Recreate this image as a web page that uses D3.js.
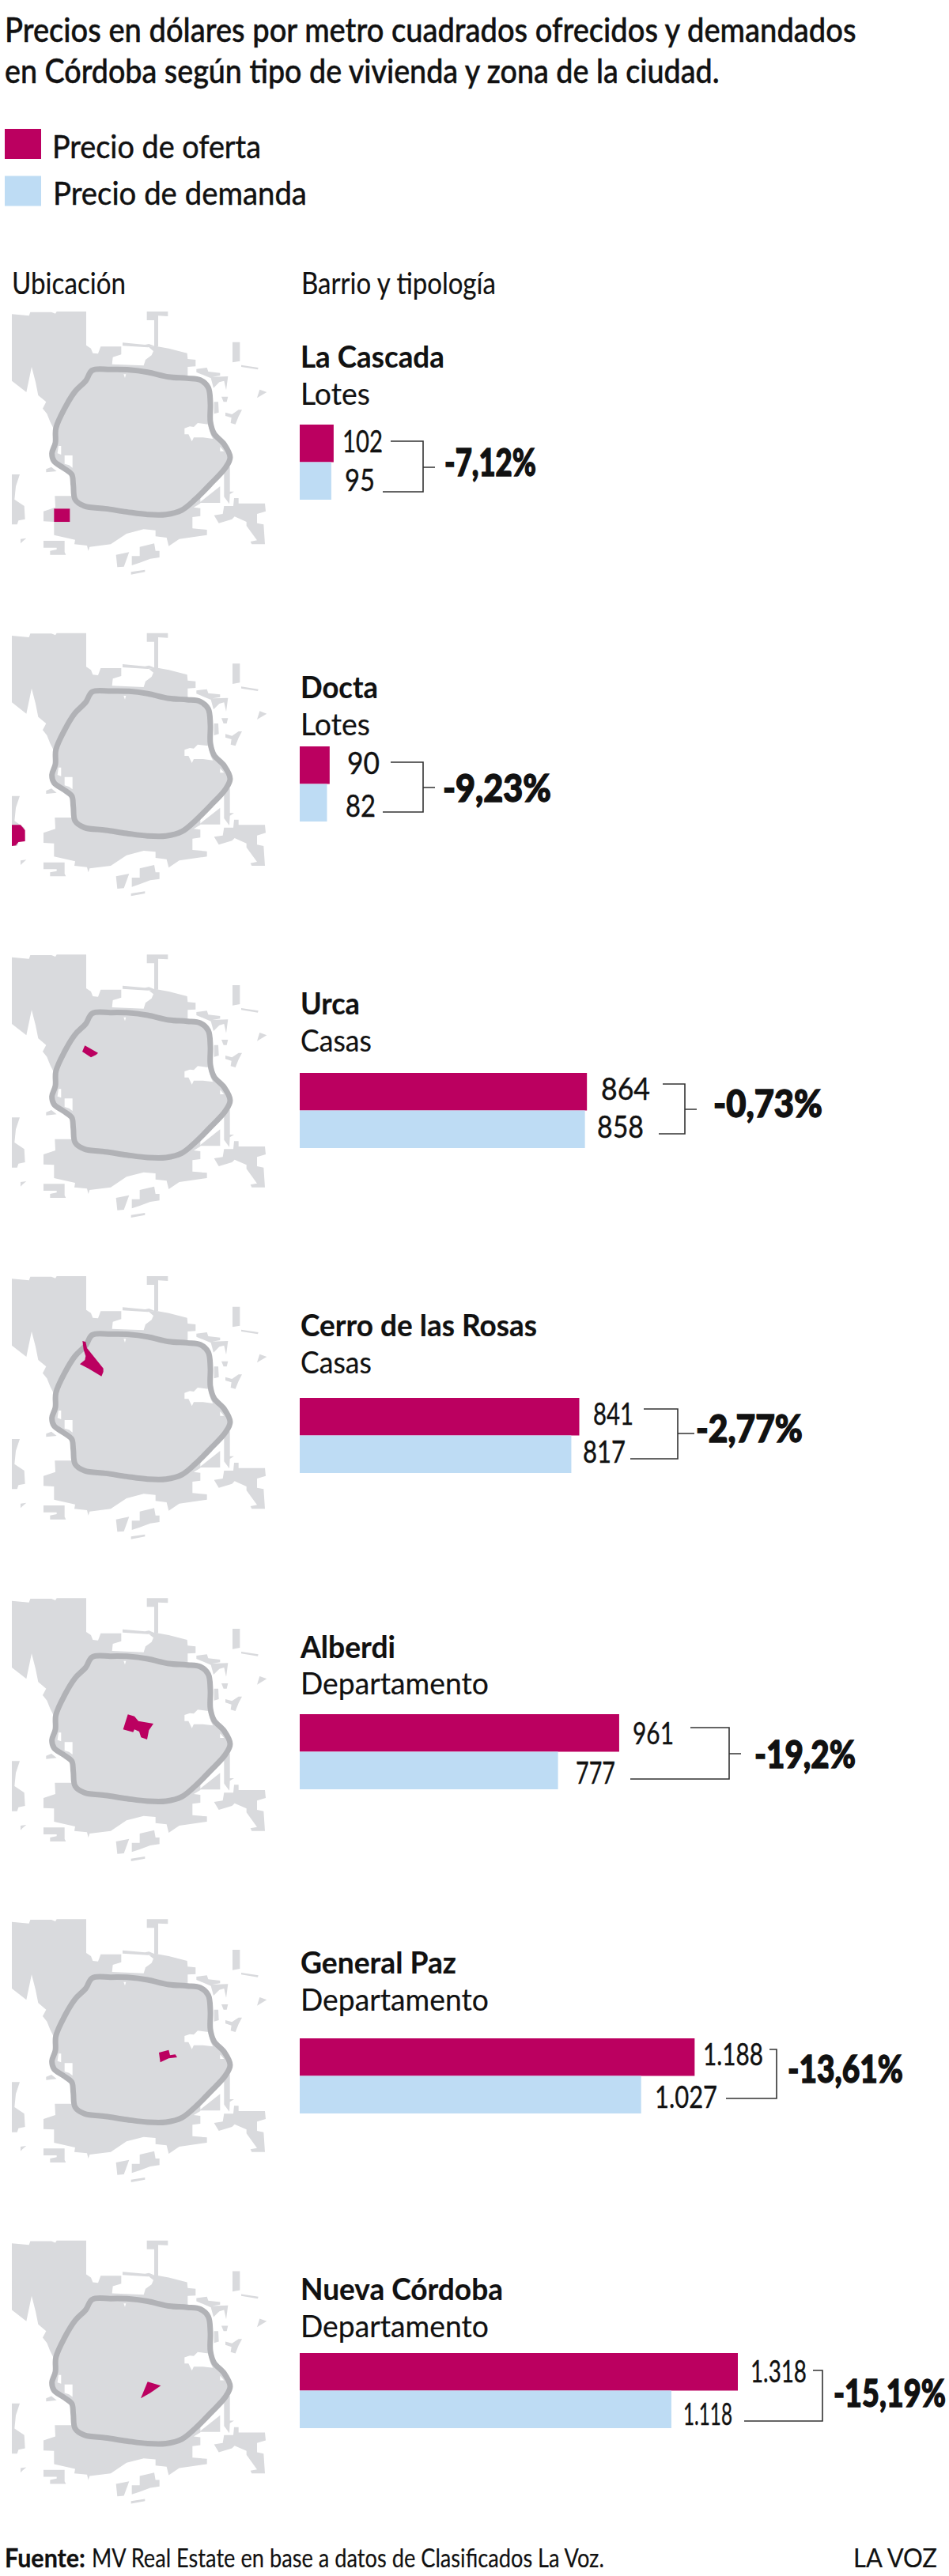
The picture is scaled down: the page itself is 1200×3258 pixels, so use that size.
<!DOCTYPE html>
<html lang="es">
<head>
<meta charset="utf-8">
<title>Precios en Córdoba</title>
<script src="https://cdn.jsdelivr.net/npm/d3@7/dist/d3.min.js"></script>
<style>
html,body{margin:0;padding:0;background:#fff}
svg{display:block}
text{font-family:Lato,"Open Sans",sans-serif;fill:#111;stroke:#111;paint-order:stroke}
</style>
</head>
<body>
<svg id="chart" width="1200" height="3258"></svg>
<script>
// Prices per square metre
const barrios    = ["La Cascada","Docta","Urca","Cerro de las Rosas","Alberdi","General Paz","Nueva Córdoba"];
const tipologias = ["Lotes","Lotes","Casas","Casas","Departamento","Departamento","Departamento"];
const oferta     = [102,90,864,841,961,1188,1318];
const demanda    = [95,82,858,817,777,1027,1118];
const variacion  = ["-7,12%","-9,23%","-0,73%","-2,77%","-19,2%","-13,61%","-15,19%"];
const titulo     = ["Precios en dólares por metro cuadrados ofrecidos y demandados","en Córdoba según tipo de vivienda y zona de la ciudad."];
const leyenda    = ["Precio de oferta","Precio de demanda"];

// Colours
const MAGENTA="#bb0060", CELESTE="#bedcf4", TIERRA="#d9dadd", ANILLO="#b1b2b6";

// Vertical layout of each row
const barTop   = [537,944,1357,1768,2168,2578,2976];
const mapBase  = [366.7,773.3,1180,1586.7,1994,2400,2806.5];
const nameBase = [465,883,1283,1690,2097,2496,2909];
const typeBase = [512,930,1330,1737,2143,2543,2956];

// Value labels and bracket for each row
const lblO = [{x:433,w:51,y:572},{x:439,w:41,y:979},{x:760,w:62,y:1391},{x:750,w:51,y:1802},{x:800,w:52,y:2206},{x:889,w:76,y:2612},{x:949,w:71,y:3013}];
const lblD = [{x:436,w:38,y:621},{x:437,w:38,y:1033},{x:755,w:59,y:1439},{x:737,w:54,y:1850},{x:728,w:50,y:2256},{x:828,w:79,y:2666},{x:864,w:62,y:3067}];
const brk  = [
 {x0:494,x1:484,xv:535,y0:558,y1:622,ty:591,tx:550},
 {x0:494,x1:484,xv:535,y0:964,y1:1027,ty:996,tx:550},
 {x0:838,x1:833,xv:866,y0:1371,y1:1434,ty:1403,tx:881},
 {x0:814,x1:797,xv:857,y0:1782,y1:1845,ty:1813,tx:878},
 {x0:873,x1:797,xv:922,y0:2185,y1:2250,ty:2218,tx:937},
 {x0:973,x1:918,xv:982,y0:2592,y1:2654,ty:2623,tx:982},
 {x0:1028,x1:941,xv:1040,y0:2998,y1:3062,ty:3030,tx:1040}];
const lblP = [{x:562,w:116,y:602},{x:560,w:137,y:1014},{x:902,w:138,y:1413},{x:880,w:135,y:1824},{x:954,w:128,y:2236},{x:996,w:146,y:2634},{x:1054,w:142,y:3044}];

// Widths of the row headings
const nameW = [182,98,75,299,120,197,256];
const typeW = [88,88,90,90,238,238,238];

// City outline, in a 1020-unit square
const tierra = [
 [[45,92],[110,98],[115,84],[195,84],[210,90],[215,82],[327,82],[327,210],[345,222],[352,240],[372,242],[382,215],[460,215],[460,245],[428,255],[425,282],[545,287],[552,265],[575,248],[582,232],[565,218],[590,213],[640,222],[710,240],[712,262],[742,265],[742,290],[712,292],[712,325],[770,340],[798,370],[798,510],[812,545],[850,585],[873,635],[855,675],[800,735],[760,775],[760,810],[735,825],[760,828],[760,858],[730,862],[730,905],[785,910],[785,930],[680,945],[640,972],[632,940],[590,935],[590,912],[545,908],[480,925],[420,965],[340,975],[335,990],[330,970],[282,965],[285,948],[205,930],[205,880],[165,878],[165,840],[210,825],[208,782],[272,782],[272,700],[240,675],[205,650],[197,620],[210,580],[205,530],[190,500],[178,470],[162,450],[175,425],[145,400],[135,350],[120,292],[100,388],[45,345]],
 [[557,82],[637,82],[637,100],[600,98],[600,215],[585,215],[585,115],[557,115]],
 [[465,200],[550,208],[565,205],[590,215],[560,218],[465,212]],
 [[882,198],[910,198],[910,270],[882,275]],
 [[915,285],[980,295],[978,302],[915,292]],
 [[985,378],[1012,388],[975,410]],
 [[745,300],[785,295],[790,310],[835,315],[835,325],[805,330],[865,328],[858,380],[850,345],[832,350],[810,372],[800,335],[745,312]],
 [[840,405],[865,405],[860,425],[848,425]],
 [[812,425],[828,425],[830,465],[812,470]],
 [[855,465],[880,472],[905,455],[918,455],[905,480],[893,510],[875,505],[878,485],[855,478]],
 [[45,700],[75,700],[60,745],[55,795],[92,820],[95,870],[70,875],[65,890],[45,890]],
 [[78,945],[100,942],[85,955],[78,962]],
 [[165,952],[245,952],[245,995],[250,1005],[190,1005],[190,990],[215,985],[215,978],[165,978]],
 [[440,1005],[490,995],[470,1050],[445,1052]],
 [[500,1010],[530,1010],[530,975],[585,962],[590,990],[605,990],[605,1015],[570,1020],[530,1035],[500,1045]],
 [[497,1070],[550,1062],[550,1070],[497,1080]],
 [[888,790],[905,790],[905,810],[1005,810],[1008,840],[975,850],[975,885],[1000,890],[1005,965],[955,965],[950,955],[975,950],[935,895],[935,880],[890,860],[880,870],[830,885],[812,855],[845,850],[850,820],[885,820]],
 [[850,680],[872,670],[872,765],[888,765],[872,775],[870,812],[850,785]],
 [[835,745],[835,808],[755,808]],
 [[175,680],[195,672],[215,688],[175,692]]
];
const huecos = [
 [[700,525],[720,518],[735,520],[750,505],[790,510],[800,550],[808,565],[770,560],[735,560],[728,575],[715,548],[700,548]],
 [[245,628],[275,628],[275,675],[262,665],[245,660]],
 [[222,592],[232,592],[232,625],[218,620]],
 [[835,595],[850,612],[835,612]],
 [[469,320],[478,320],[474,334]]
];
const anillo = [[350,305],[420,302],[490,303],[560,312],[640,330],[710,335],[760,342],[790,370],[798,430],[798,500],[812,545],[850,585],[873,635],[855,675],[800,735],[740,795],[690,835],[630,852],[560,852],[480,842],[400,830],[320,820],[285,795],[278,740],[272,700],[240,675],[205,650],[197,620],[210,580],[212,525],[245,450],[285,385],[325,345]];
const zonas = [
 [[205,830],[265,830],[265,880],[205,880]],
 [[45,810],[78,810],[95,830],[95,872],[70,875],[60,888],[45,890]],
 [[322,427],[372,455],[365,462],[345,472],[312,450]],
 [[313,328],[325,332],[330,355],[392,432],[392,445],[385,462],[335,432],[303,416],[322,400],[325,385],[317,360]],
 [[485,523],[510,530],[525,548],[582,558],[565,583],[558,618],[535,610],[528,588],[510,580],[505,590],[467,580]],
 [[603,588],[640,578],[645,598],[665,595],[672,606],[640,610],[608,625]],
 [[534,680],[560,617],[610,632],[570,660]]
];

const svg = d3.select("#chart");

// Text helper: condenses a string horizontally to its width on the page
// and thickens it with a thin outline
function texto(g, str, x, y, size, weight, width, grosor){
  const t = g.append("text")
    .attr("font-size",size).attr("font-weight",weight)
    .attr("stroke-width",grosor||0).text(str);
  const natural = t.node().getComputedTextLength();
  t.attr("transform",`translate(${x},${y}) scale(${width/natural},1)`);
  return t;
}

// Heading
const cab = svg.append("g");
texto(cab,titulo[0],6,53,42,500,1077,0.5);
texto(cab,titulo[1],6,105,42,500,904,0.5);

// Legend
const legW=[264,321];
leyenda.forEach((l,i)=>{
  cab.append("rect").attr("x",6).attr("y",163+i*59.5).attr("width",46).attr("height",38)
    .attr("fill",i?CELESTE:MAGENTA);
  texto(cab,l,i?67:66,200+i*59,41,400,legW[i],0.5);
});
texto(cab,"Ubicación",15,372,38,400,144,0.2);
texto(cab,"Barrio y tipología",381,372,38,400,246,0.2);

// Bars share a single horizontal scale
const x = d3.scaleLinear().domain([0,1318]).range([379,933]);
const mx = d3.scaleLinear().domain([0,1020]).range([0,340]);

barrios.forEach((b,i)=>{
  const g = svg.append("g").attr("class","fila");

  // Locator map
  const my = d3.scaleLinear().domain([0,1020]).range([mapBase[i],mapBase[i]+340]);
  const linea = d3.line().x(d=>mx(d[0])).y(d=>my(d[1]));
  const poly = pts => linea(pts)+"Z";
  const m = g.append("g").attr("class","mapa");
  m.selectAll("path.t").data(tierra).join("path").attr("class","t").attr("d",poly).attr("fill",TIERRA);
  m.selectAll("path.h").data(huecos).join("path").attr("class","h").attr("d",poly).attr("fill","#fff");
  m.append("path").attr("d",d3.line().x(d=>mx(d[0])).y(d=>my(d[1])).curve(d3.curveCatmullRomClosed.alpha(0.5))(anillo))
    .attr("fill","none").attr("stroke",ANILLO).attr("stroke-width",7);
  m.append("path").attr("d",poly(zonas[i])).attr("fill",MAGENTA);

  // Row heading
  texto(g,b,380,nameBase[i],39,700,nameW[i],0.2);
  texto(g,tipologias[i],380,typeBase[i],38,400,typeW[i],0.2);

  // Offer and demand bars
  const y = d3.scaleBand().domain(["oferta","demanda"]).range([barTop[i],barTop[i]+95]);
  g.append("rect").attr("x",x(0)).attr("y",y("oferta")).attr("width",x(oferta[i])-x(0)).attr("height",y.bandwidth()).attr("fill",MAGENTA);
  g.append("rect").attr("x",x(0)).attr("y",y("demanda")).attr("width",x(demanda[i])-x(0)).attr("height",y.bandwidth()).attr("fill",CELESTE);

  // Value labels use a dot as thousands separator
  const fmt = v => d3.format(",")(v).replace(",",".");
  texto(g,fmt(oferta[i]),lblO[i].x,lblO[i].y,38,400,lblO[i].w,0.4);
  texto(g,fmt(demanda[i]),lblD[i].x,lblD[i].y,38,400,lblD[i].w,0.4);

  // Bracket joining both values
  const k = brk[i];
  let d = `M${k.x0},${k.y0}H${k.xv}V${k.y1}H${k.x1}`;
  if(k.tx>k.xv) d += `M${k.xv},${k.ty}H${k.tx}`;
  g.append("path").attr("d",d).attr("fill","none").attr("stroke","#333").attr("stroke-width",1.6);

  texto(g,variacion[i],lblP[i].x,lblP[i].y,47,900,lblP[i].w,1.4);
});

// Footer
const pie = svg.append("g");
texto(pie,"Fuente:",6,3247,33,700,102,0.3);
texto(pie,"MV Real Estate en base a datos de Clasificados La Voz.",116,3247,33,400,648,0.2);
texto(pie,"LA VOZ",1079,3247,33,400,106,0.2);
</script>
</body>
</html>
